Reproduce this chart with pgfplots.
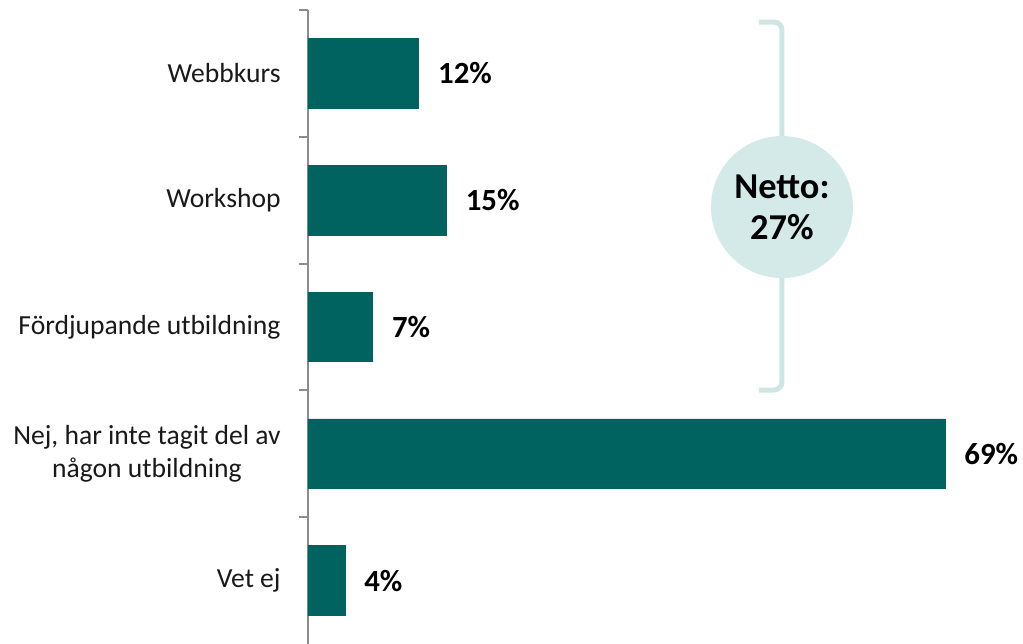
\documentclass[border=0pt]{standalone}
\usepackage{pgfplots}
\pgfplotsset{compat=1.18}
\usepackage{fontspec}
\setmainfont{Carlito}
\usetikzlibrary{calc}
\definecolor{barc}{RGB}{0,99,95}
\definecolor{brk}{RGB}{205,230,228}
\definecolor{circ}{RGB}{211,234,232}
\definecolor{axisgray}{RGB}{140,140,140}

\begin{document}
\begin{tikzpicture}
\begin{axis}[
 name=ax,
 scale only axis, width=357.5pt, height=317pt,
 xbar, xmin=0, xmax=77.45,
 ymin=-0.5, ymax=4.5, y dir=reverse,
 bar width=0.55,
 axis x line=none,
 axis y line*=left,
 axis line style={axisgray, line width=1pt},
 ytick={0,1,2,3,4},
 yticklabels={Webbkurs, Workshop, Fördjupande utbildning, {Nej, har inte tagit del av\\någon utbildning}, Vet ej},
 yticklabel style={align=center, font=\fontsize{13.8}{16.2}\selectfont, inner sep=0pt, xshift=-13.5pt, text=black!90},
 major tick length=0pt,
 minor ytick={-0.5,0.5,1.5,2.5,3.5},
 minor tick length=4.5pt,
 tick align=outside,
 minor tick style={axisgray, line width=1pt},
 /pgf/number format/assume math mode=true,
 nodes near coords={\pgfmathprintnumber{\pgfplotspointmeta}\%},
 nodes near coords style={font=\bfseries\fontsize{15.4}{18}\selectfont, anchor=west, inner sep=0pt, xshift=9.5pt, text=black},
 clip=false,
]
\addplot[fill=barc, draw=barc] coordinates {(12,0) (15,1) (7,2) (69,3) (4,4)};
\draw[brk, line width=2.5pt, rounded corners=4pt] (axis cs:48.85,-0.405) -- (axis cs:51.34,-0.405) -- (axis cs:51.34,2.497) -- (axis cs:48.85,2.497);
\fill[circ] (axis cs:51.34,1.054) circle[radius=35.5pt];
\node[align=center, font=\bfseries\fontsize{18.2}{20.5}\selectfont] at (axis cs:51.34,1.054) {Netto:\\27\%};
\end{axis}
\pgfresetboundingbox
\path ($(ax.south west)+(-154pt,0)$) rectangle ($(ax.north east)+(0,5pt)$);
\end{tikzpicture}
\end{document}
